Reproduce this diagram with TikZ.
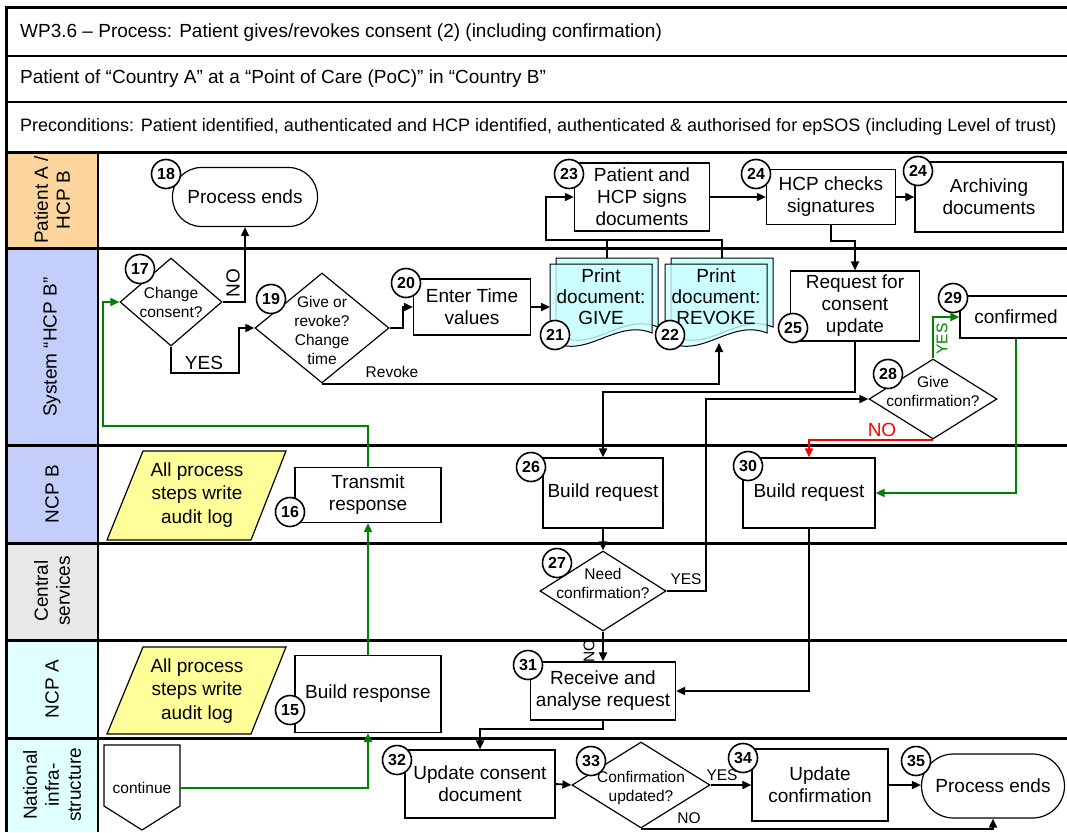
\documentclass[tikz,border=0pt]{standalone}
\usepackage{fontspec}
\setmainfont{Liberation Sans}
\usetikzlibrary{arrows.meta,shapes.geometric}

\definecolor{lanePat}{RGB}{252,213,158}
\definecolor{laneSys}{RGB}{196,206,250}
\definecolor{laneCen}{RGB}{232,232,232}
\definecolor{laneNat}{RGB}{224,255,255}
\definecolor{docFill}{RGB}{204,255,255}
\definecolor{logFill}{RGB}{255,255,153}
\definecolor{okGreen}{RGB}{0,128,0}
\definecolor{noRed}{RGB}{255,0,0}

\newcommand\fs[2]{\fontsize{#1}{#2}\selectfont}

% one printed sheet with a wavy lower edge: [options] left x, top y, right x, lower-left y
\newcommand\printpage[5][]{%
  \path[draw=black, line width=1pt, fill=docFill, #1]
    (#2,#3) -- (#4,#3) -- (#4,#5-7)
    .. controls (#4-37,#5-22) and (#2+35,#5+22) .. (#2,#5) -- cycle;}

\begin{document}
\begin{tikzpicture}[x=1pt,y=-1pt,
  every node/.style={font=\fs{19}{22}},
  box/.style={draw, line width=1.2pt, fill=white, inner sep=0pt, align=center},
  endbox/.style={box, rounded corners=29pt},
  dia/.style={draw, diamond, line width=1.2pt, fill=white, inner sep=0pt},
  dtext/.style={align=center, inner sep=0pt, font=\fs{15.5}{19}},
  num/.style={circle, draw, line width=1.6pt, fill=white, minimum size=29pt, inner sep=0pt, font=\bfseries\fs{16}{16}},
  lanelabel/.style={rotate=90, align=center, font=\fs{19}{22}},
  sep/.style={line width=3pt},
  thinsep/.style={line width=1.5pt},
  link/.style={line width=1.8pt},
  flow/.style={link, -{Triangle[length=9pt,width=8pt]}},
  ok/.style={flow, draw=okGreen},
  nope/.style={flow, draw=noRed},
  tag/.style={font=\fs{15.5}{18}, inner sep=1pt},
  bigtag/.style={font=\fs{19}{22}, inner sep=1pt},
  logbox/.style={align=center, inner sep=0pt, font=\fs{19}{23.5}},
  headtext/.style={anchor=west, inner sep=0pt},
]
\useasboundingbox (0,0) rectangle (1067,832);
\clip (0,0) rectangle (1067,832);

% lane heads
\fill[lanePat] (6,152) rectangle (98,248);
\fill[laneSys] (6,248) rectangle (98,445);
\fill[laneSys] (6,445) rectangle (98,543);
\fill[laneCen] (6,543) rectangle (98,640);
\fill[laneNat] (6,640) rectangle (98,738);
\fill[laneNat] (6,738) rectangle (98,832);

% grid
\draw[thinsep] (6,56) -- (1067,56) (6,102) -- (1067,102);
\draw[thinsep] (98,152) -- (98,832);
\draw[sep] (6,152) -- (1067,152) (6,248) -- (1067,248) (6,445) -- (1067,445)
  (6,543) -- (1067,543) (6,640) -- (1067,640) (6,738) -- (1067,738);
\draw[sep] (1067,8) -- (6,8) -- (6,832);

% header rows
\node[headtext, font=\fs{19}{22}] (title) at (20,33) {WP3.6 – Process: Patient gives/revokes consent (2) (including confirmation)};
\node[headtext, font=\fs{19}{22}] (scope) at (20,79) {Patient of “Country A” at a “Point of Care (PoC)” in “Country B”};
\node[headtext, font=\fs{18}{21}] (precond) at (20,127) {Preconditions: Patient identified, authenticated and HCP identified, authenticated \& authorised for epSOS (including Level of trust)};

% lane labels
\node[lanelabel] (lPat) at (52,200) {Patient A /\\HCP B};
\node[lanelabel] (lSys) at (52,347) {System “HCP B”};
\node[lanelabel] (lNcpB) at (52,494) {NCP B};
\node[lanelabel] (lCen) at (52,591) {Central\\services};
\node[lanelabel] (lNcpA) at (52,689) {NCP A};
\node[lanelabel] (lNat) at (52,785) {National\\infra-\\structure};

% audit log notes
\filldraw[fill=logFill, line width=1.2pt] (143,451) -- (286,451) -- (251,540) -- (107,540) -- cycle;
\node[logbox] (logB) at (197,495) {All process\\steps write\\audit log};
\filldraw[fill=logFill, line width=1.2pt] (143,647) -- (286,647) -- (251,734) -- (107,734) -- cycle;
\node[logbox] (logA) at (197,691) {All process\\steps write\\audit log};

% off-page connector
\filldraw[fill=white, line width=1.2pt] (104,745) -- (180,745) -- (180,806) -- (142,830) -- (104,806) -- cycle;
\node[minimum width=76pt, inner sep=0pt, font=\fs{15.5}{18}] (cont) at (142,788) {continue};

% printed documents
\printpage{556}{258}{658}{334}
\printpage[fill opacity=0.8]{550}{264}{652}{340}
\printpage{671}{258}{773}{334}
\printpage[fill opacity=0.8]{665}{264}{767}{340}
\node[align=center, inner sep=0pt, font=\fs{19}{21}] (p21) at (601,297) {Print\\document:\\GIVE};
\node[align=center, inner sep=0pt, font=\fs{19}{21}] (p22) at (716,297) {Print\\document:\\REVOKE};
\coordinate (g21) at (550,307);
\coordinate (t21) at (607,258);
\coordinate (t22) at (722,258);
\coordinate (b22) at (719,343);

% process steps
\node[endbox, minimum width=145pt, minimum height=59pt] (n18) at (245,197) {Process ends};
\node[box, minimum width=135pt, minimum height=68pt] (n23) at (642,197) {Patient and\\HCP signs\\documents};
\node[box, minimum width=129pt, minimum height=55pt] (n24a) at (831,197) {HCP checks\\signatures};
\node[box, minimum width=148pt, minimum height=70pt] (n24b) at (989,197) {Archiving\\documents};

\node[dia, minimum width=102pt, minimum height=88pt] (d17) at (171,302) {};
\node[dtext] (t17) at (171,302) {Change\\consent?};
\node[dia, minimum width=134pt, minimum height=110pt] (d19) at (322,328) {};
\node[dtext] (t19) at (322,330) {Give or\\revoke?\\Change\\time};
\node[box, minimum width=117pt, minimum height=56pt] (n20) at (472,307) {Enter Time\\values};
\node[box, minimum width=129pt, minimum height=70pt] (n25) at (855,306) {Request for\\consent\\update};
\node[box, minimum width=112pt, minimum height=42pt] (n29) at (1016,317) {confirmed};
\node[dia, minimum width=128pt, minimum height=80pt] (d28) at (933,399) {};
\node[dtext] (t28) at (933,391) {Give\\confirmation?};

\node[box, minimum width=120pt, minimum height=70pt] (n26) at (603,493) {Build request};
\node[box, minimum width=132pt, minimum height=70pt] (n30) at (809,493) {Build request};
\node[box, minimum width=146pt, minimum height=55pt] (n16) at (368,495) {Transmit\\response};

\node[dia, minimum width=126pt, minimum height=80pt] (d27) at (603,591) {};
\node[dtext] (t27) at (603,583) {Need\\confirmation?};

\node[box, minimum width=145pt, minimum height=58pt] (n31) at (603,691) {Receive and\\analyse request};
\node[box, minimum width=146pt, minimum height=77pt] (n15) at (368,694) {Build response};

\node[box, minimum width=150pt, minimum height=68pt] (n32) at (480,784) {Update consent\\document};
\node[dia, minimum width=138pt, minimum height=86pt] (d33) at (641,785) {};
\node[dtext] (t33) at (641,788) {Confirmation\\updated?};
\node[box, minimum width=136pt, minimum height=72pt] (n34) at (820,785) {Update\\confirmation};
\node[endbox, rounded corners=32pt, minimum width=143pt, minimum height=64pt] (n35) at (993,786) {Process ends};

% connectors
\draw[flow] (d17.east) -| (n18.south);
\draw[flow] (d17.south) |- (239,373) |- (d19.west);
\draw[flow] (d19.east) -- (403,328) |- (n20.west);
\draw[flow] (d19.south) -| (b22);
\draw[flow] (n20.east) -- (g21);
\draw[flow] (t21) -- (607,240) -- (546,240) |- (n23.west);
\draw[link] (t22) -- (722,240) -- (607,240);
\draw[flow] (n23.east) -- (n24a.west);
\draw[flow] (n24a.east) -- (n24b.west);
\draw[flow] (n24a.south) -- ++(0,16) -| (n25.north);
\draw[flow] (n25.south) -- ++(0,50) -| (n26.north);
\draw[flow] (n26.south) -- (d27.north);
\draw[flow] (d27.east) -- (706,591) |- (d28.west);
\draw[flow] (d27.south) -- (n31.north);
\draw[ok] (d28.north) |- (n29.west);
\draw[nope] (d28.south) -| (n30.north);
\draw[ok] (n29.south) |- (n30.east);
\draw[flow] (n30.south) |- (n31.east);
\draw[flow] (n31.south) -- ++(0,8) -| (n32.north);
\draw[flow] (n32.east) -- (d33.west);
\draw[flow] (d33.east) -- (n34.west);
\draw[flow] (n34.east) -- (n34.east -| n35.west);
\draw[flow] (d33.south) -| (n35.south);
\draw[ok] (cont.east) -| (n15.south);
\draw[ok] (n15.north) -- (n16.south);
\draw[ok] (n16.north) |- (103,426) |- (d17.west);

% branch labels
\node[bigtag, rotate=90] (lbNo17) at (233,283) {NO};
\node[bigtag] (lbYes17) at (204,363) {YES};
\node[tag] (lbRev) at (392,372) {Revoke};
\node[tag] (lbYes27) at (686,579) {YES};
\node[tag, rotate=90] (lbNo27) at (589,651) {NO};
\node[tag, rotate=90, text=okGreen] (lbYes28) at (942,339) {YES};
\node[bigtag, text=noRed] (lbNo28) at (882,430) {NO};
\node[tag] (lbYes33) at (722,775) {YES};
\node[tag] (lbNo33) at (689,818) {NO};

% step numbers
\node[num] (c18) at (166,174) {18};
\node[num] (c23) at (569,174) {23};
\node[num] (c24a) at (756,174) {24};
\node[num] (c24b) at (918,171) {24};
\node[num] (c17) at (140,269) {17};
\node[num] (c19) at (271,299) {19};
\node[num] (c20) at (406,283) {20};
\node[num] (c21) at (555,335) {21};
\node[num] (c22) at (670,335) {22};
\node[num] (c25) at (793,328) {25};
\node[num] (c29) at (953,298) {29};
\node[num] (c28) at (888,374) {28};
\node[num] (c26) at (531,467) {26};
\node[num] (c30) at (748,466) {30};
\node[num] (c27) at (557,563) {27};
\node[num] (c16) at (290,512) {16};
\node[num] (c15) at (290,710) {15};
\node[num] (c31) at (528,665) {31};
\node[num] (c32) at (397,760) {32};
\node[num] (c33) at (591,761) {33};
\node[num] (c34) at (743,758) {34};
\node[num] (c35) at (916,761) {35};
\end{tikzpicture}
\end{document}
